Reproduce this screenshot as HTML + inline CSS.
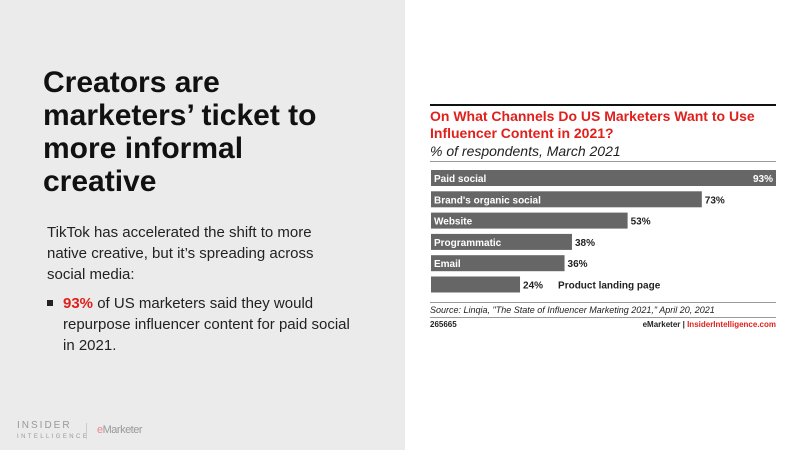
<!DOCTYPE html>
<html><head><meta charset="utf-8"><style>
body{margin:0;width:800px;height:450px;position:relative;font-family:"Liberation Sans",sans-serif;background:#fff;overflow:hidden}
#left{position:absolute;left:0;top:0;width:405px;height:450px;background:#ebebeb}
h1{position:absolute;left:43px;top:66px;margin:0;font-size:30px;line-height:33px;font-weight:bold;color:#111;width:300px}
.body{position:absolute;left:47px;top:222px;font-size:15px;line-height:21px;color:#222;width:305px}
.red{color:#e0201c;font-weight:bold}
.t{position:absolute;white-space:nowrap}
</style></head><body>
<div id="left">
<h1>Creators are marketers’ ticket to more informal creative</h1>
<div class="body">TikTok has accelerated the shift to more native creative, but it’s spreading across social media:
<div style="margin-top:8px;padding-left:16px;position:relative;width:290px"><span style="position:absolute;left:0;top:7px;width:6px;height:6px;background:#222"></span><span class="red">93%</span> of US marketers said they would repurpose influencer content for paid social in 2021.</div></div>
<div class="t" style="left:17px;top:421px;font-size:10px;letter-spacing:2px;color:#999;line-height:10px">INSIDER<br><span style="font-size:6px;letter-spacing:2.4px">INTELLIGENCE</span></div>
<div style="position:absolute;left:86px;top:423px;width:1px;height:16px;background:#ccc"></div>
<div class="t" style="left:97px;top:424px;font-size:11px;color:#999;letter-spacing:-0.5px"><span style="color:#e88">e</span>Marketer</div>
</div>
<div style="position:absolute;left:430px;top:104px;width:346px;height:2px;background:#111"></div>
<div class="t" style="left:430px;top:108px;font-size:14px;line-height:17px;font-weight:bold;color:#e0201c">On What Channels Do US Marketers Want to Use<br>Influencer Content in 2021?</div>
<div class="t" style="left:430px;top:143px;font-size:14px;font-style:italic;color:#222">% of respondents, March 2021</div>
<div style="position:absolute;left:430px;top:161px;width:346px;height:1px;background:#999"></div>
<svg id="chart" style="position:absolute;left:0;top:0" width="800" height="450"></svg>
<div style="position:absolute;left:430px;top:302px;width:346px;height:1px;background:#999"></div>
<div class="t" style="left:430px;top:305px;font-size:9px;font-style:italic;color:#222">Source: Linqia, "The State of Influencer Marketing 2021," April 20, 2021</div>
<div style="position:absolute;left:430px;top:317px;width:346px;height:1px;background:#999"></div>
<div class="t" style="left:430px;top:320px;font-size:8px;font-weight:bold;color:#222">265665</div>
<div class="t" style="right:24px;top:320px;font-size:8px;font-weight:bold;color:#222">eMarketer | <span style="color:#e0201c">InsiderIntelligence.com</span></div>
<script>
const categories=["Paid social","Brand's organic social","Website","Programmatic","Email","Product landing page"];
const values=[93,73,53,38,36,24];
const svg=document.getElementById('chart');
const NS='http://www.w3.org/2000/svg';
const x0=431,pxPer=345/93,y0=170,step=21.3,bh=16;
function xs(v){return v*pxPer;}
function ys(i){return y0+i*step;}
categories.forEach((c,i)=>{
 const w=xs(values[i]),y=ys(i);
 const r=document.createElementNS(NS,'rect');
 
 
 r.setAttribute('x',x0);r.setAttribute('y',y);r.setAttribute('width',w);r.setAttribute('height',bh);r.setAttribute('fill','#666');
 svg.appendChild(r);
 const inside=i<5;
 const lab=document.createElementNS(NS,'text');
 
 
 lab.setAttribute('font-size','10');lab.setAttribute('font-weight','bold');lab.setAttribute('font-family','Liberation Sans');
 lab.setAttribute('y',y+12);
 lab.textContent=c;
 const val=document.createElementNS(NS,'text');
 
 
 val.setAttribute('font-size','10');val.setAttribute('font-weight','bold');val.setAttribute('font-family','Liberation Sans');
 val.setAttribute('y',y+12);
 val.textContent=values[i]+'%';
 if(i===0){val.setAttribute('x',x0+w-3);val.setAttribute('text-anchor','end');val.setAttribute('fill','#fff');}
 else{val.setAttribute('x',x0+w+3);val.setAttribute('fill','#222');}
 if(inside){lab.setAttribute('x',x0+3);lab.setAttribute('fill','#fff');}
 else{lab.setAttribute('x',x0+w+38);lab.setAttribute('fill','#222');}
 svg.appendChild(lab);svg.appendChild(val);
});
</script>
</body></html>
